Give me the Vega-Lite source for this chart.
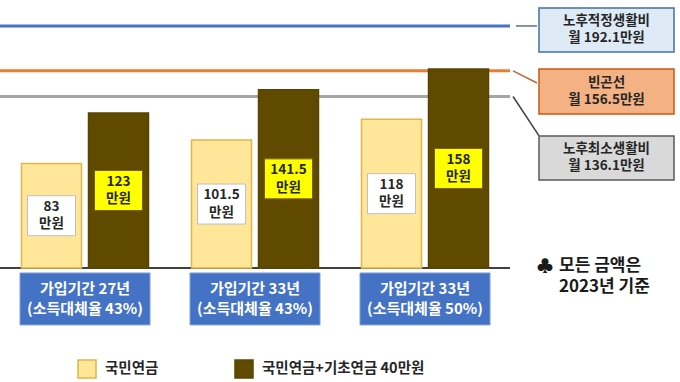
{
  "$schema": "https://vega.github.io/schema/vega-lite/v6.json",
  "width": 680,
  "height": 382,
  "autosize": "none",
  "padding": 0,
  "background": "white",
  "config": {
    "view": {"stroke": null},
    "axis": {"disable": true},
    "font": "Noto Sans CJK KR",
    "text": {"font": "Noto Sans CJK KR", "fontWeight": "bold", "color": "#262626"}
  },
  "datasets": {
    "bars": [
      {"group": "가입기간 27년\n(소득대체율 43%)", "series": "국민연금", "value": 83, "label": "83\n만원"},
      {"group": "가입기간 27년\n(소득대체율 43%)", "series": "국민연금+기초연금 40만원", "value": 123, "label": "123\n만원"},
      {"group": "가입기간 33년\n(소득대체율 43%)", "series": "국민연금", "value": 101.5, "label": "101.5\n만원"},
      {"group": "가입기간 33년\n(소득대체율 43%)", "series": "국민연금+기초연금 40만원", "value": 141.5, "label": "141.5\n만원"},
      {"group": "가입기간 33년\n(소득대체율 50%)", "series": "국민연금", "value": 118, "label": "118\n만원"},
      {"group": "가입기간 33년\n(소득대체율 50%)", "series": "국민연금+기초연금 40만원", "value": 158, "label": "158\n만원"}
    ],
    "refs": [
      {"name": "노후적정생활비", "amount": 192.1, "label": "노후적정생활비\n월 192.1만원"},
      {"name": "빈곤선", "amount": 156.5, "label": "빈곤선\n월 156.5만원"},
      {"name": "노후최소생활비", "amount": 136.1, "label": "노후최소생활비\n월 136.1만원"}
    ],
    "groups": [
      {"group": "가입기간 27년\n(소득대체율 43%)"},
      {"group": "가입기간 33년\n(소득대체율 43%)"},
      {"group": "가입기간 33년\n(소득대체율 50%)"}
    ],
    "baseline": [{"level": 0}],
    "notes": [{"symbol": "♣", "text": "모든 금액은\n2023년 기준"}]
  },
  "layer": [
    {
      "data": {"name": "refs"},
      "mark": {"type": "rule", "strokeWidth": 3},
      "encoding": {
        "x": {"datum": "가입기간 27년\n(소득대체율 43%)", "type": "nominal", "bandPosition": 0, "scale": {"domain": ["가입기간 27년\n(소득대체율 43%)", "가입기간 33년\n(소득대체율 43%)", "가입기간 33년\n(소득대체율 50%)", "note"], "paddingInner": 0, "paddingOuter": 0}},
        "x2": {"datum": "가입기간 33년\n(소득대체율 50%)", "bandPosition": 1},
        "y": {"field": "amount", "type": "quantitative", "scale": {"domain": [-90.5, 212.7], "nice": false, "zero": false}},
        "color": {"field": "name", "type": "nominal", "scale": {"domain": ["노후적정생활비", "빈곤선", "노후최소생활비"], "range": ["#4472C4", "#ED7D31", "#A5A5A5"]}, "legend": null}
      }
    },
    {
      "data": {"name": "baseline"},
      "mark": {"type": "rule", "strokeWidth": 2, "color": "#404040"},
      "encoding": {
        "x": {"datum": "가입기간 27년\n(소득대체율 43%)", "type": "nominal", "bandPosition": 0, "scale": {"domain": ["가입기간 27년\n(소득대체율 43%)", "가입기간 33년\n(소득대체율 43%)", "가입기간 33년\n(소득대체율 50%)", "note"], "paddingInner": 0, "paddingOuter": 0}},
        "x2": {"datum": "가입기간 33년\n(소득대체율 50%)", "bandPosition": 1},
        "y": {"field": "level", "type": "quantitative", "scale": {"domain": [-90.5, 212.7], "nice": false, "zero": false}}
      }
    },
    {
      "data": {"name": "bars"},
      "mark": {"type": "bar", "strokeWidth": 1.5},
      "encoding": {
        "x": {"field": "group", "type": "nominal", "scale": {"domain": ["가입기간 27년\n(소득대체율 43%)", "가입기간 33년\n(소득대체율 43%)", "가입기간 33년\n(소득대체율 50%)", "note"], "paddingInner": 0, "paddingOuter": 0}},
        "xOffset": {"field": "series", "type": "nominal", "scale": {"domain": ["국민연금", "국민연금+기초연금 40만원"], "paddingInner": 0.1045, "paddingOuter": 0.321}},
        "y": {"field": "value", "type": "quantitative", "scale": {"domain": [-90.5, 212.7], "nice": false, "zero": false}},
        "y2": {"datum": 0},
        "fill": {"field": "series", "type": "nominal", "title": null, "scale": {"domain": ["국민연금", "국민연금+기초연금 40만원"], "range": ["#FFE699", "#604A00"]},
          "legend": {"orient": "none", "legendX": 77, "legendY": 359, "direction": "horizontal", "symbolType": "square", "symbolSize": 324, "symbolStrokeWidth": 1.5, "labelFont": "Noto Sans CJK KR", "labelFontSize": 14.5, "labelFontWeight": "bold", "labelColor": "#262626", "labelOffset": 8, "columnPadding": 73, "padding": 0, "labelLimit": 300}},
        "stroke": {"field": "series", "type": "nominal", "title": null, "scale": {"domain": ["국민연금", "국민연금+기초연금 40만원"], "range": ["#E3B448", "#5A4500"]},
          "legend": {"orient": "none", "legendX": 77, "legendY": 359, "direction": "horizontal", "symbolType": "square", "symbolSize": 324, "symbolStrokeWidth": 1.5, "labelFont": "Noto Sans CJK KR", "labelFontSize": 14.5, "labelFontWeight": "bold", "labelColor": "#262626", "labelOffset": 8, "columnPadding": 73, "padding": 0, "labelLimit": 300}}
      }
    },
    {
      "data": {"name": "bars"},
      "layer": [
        {
          "mark": {"type": "point", "shape": "M-1,-0.833L1,-0.833L1,0.833L-1,0.833Z", "size": 2304, "filled": true, "opacity": 1, "strokeWidth": 1},
          "encoding": {
            "x": {"field": "group", "type": "nominal", "scale": {"domain": ["가입기간 27년\n(소득대체율 43%)", "가입기간 33년\n(소득대체율 43%)", "가입기간 33년\n(소득대체율 50%)", "note"], "paddingInner": 0, "paddingOuter": 0}},
            "xOffset": {"field": "series", "type": "nominal", "scale": {"domain": ["국민연금", "국민연금+기초연금 40만원"], "paddingInner": 0.1045, "paddingOuter": 0.321}},
            "y": {"field": "value", "type": "quantitative", "scale": {"domain": [-181, 425.4], "nice": false, "zero": false}},
            "fill": {"field": "series", "type": "nominal", "scale": {"domain": ["국민연금", "국민연금+기초연금 40만원"], "range": ["#FFFFFF", "#FFFF00"]}, "legend": null},
            "stroke": {"field": "series", "type": "nominal", "scale": {"domain": ["국민연금", "국민연금+기초연금 40만원"], "range": ["#BFBFBF", "#7F6000"]}, "legend": null}
          }
        },
        {
          "mark": {"type": "text", "fontSize": 13.5, "fontWeight": "bold", "lineBreak": "\n", "lineHeight": 17.5, "dy": -8.75, "color": "#262626"},
          "encoding": {
            "x": {"field": "group", "type": "nominal", "scale": {"domain": ["가입기간 27년\n(소득대체율 43%)", "가입기간 33년\n(소득대체율 43%)", "가입기간 33년\n(소득대체율 50%)", "note"], "paddingInner": 0, "paddingOuter": 0}},
            "xOffset": {"field": "series", "type": "nominal", "scale": {"domain": ["국민연금", "국민연금+기초연금 40만원"], "paddingInner": 0.1045, "paddingOuter": 0.321}},
            "y": {"field": "value", "type": "quantitative", "scale": {"domain": [-181, 425.4], "nice": false, "zero": false}},
            "text": {"field": "label"}
          }
        }
      ]
    },
    {
      "data": {"name": "groups"},
      "layer": [
        {
          "mark": {"type": "bar", "width": 130, "fill": "#4472C4", "stroke": "#7F9FD8", "strokeWidth": 1},
          "encoding": {
            "x": {"field": "group", "type": "nominal", "scale": {"domain": ["가입기간 27년\n(소득대체율 43%)", "가입기간 33년\n(소득대체율 43%)", "가입기간 33년\n(소득대체율 50%)", "note"], "paddingInner": 0, "paddingOuter": 0}},
            "y": {"datum": -3.97, "type": "quantitative", "scale": {"domain": [-90.5, 212.7], "nice": false, "zero": false}},
            "y2": {"datum": -45.2}
          }
        },
        {
          "mark": {"type": "text", "fontSize": 15, "fontWeight": "bold", "lineBreak": "\n", "lineHeight": 19.5, "dy": -9.75, "color": "#FFFFFF"},
          "encoding": {
            "x": {"field": "group", "type": "nominal", "scale": {"domain": ["가입기간 27년\n(소득대체율 43%)", "가입기간 33년\n(소득대체율 43%)", "가입기간 33년\n(소득대체율 50%)", "note"], "paddingInner": 0, "paddingOuter": 0}},
            "y": {"datum": -24.6, "type": "quantitative", "scale": {"domain": [-90.5, 212.7], "nice": false, "zero": false}},
            "text": {"field": "group"}
          }
        }
      ]
    },
    {
      "data": {"name": "refs"},
      "transform": [{"filter": "datum.name === '노후적정생활비'"}],
      "layer": [
        {
          "mark": {"type": "rule", "color": "#5B6F8A", "strokeWidth": 1.5},
          "encoding": {
            "x": {"datum": "note", "type": "nominal", "bandPosition": 0.035, "scale": {"domain": ["가입기간 27년\n(소득대체율 43%)", "가입기간 33년\n(소득대체율 43%)", "가입기간 33년\n(소득대체율 50%)", "note"], "paddingInner": 0, "paddingOuter": 0}},
            "x2": {"datum": "note", "bandPosition": 0.159},
            "y": {"field": "amount", "type": "quantitative", "scale": {"domain": [-90.5, 212.7], "nice": false, "zero": false}}
          }
        },
        {
          "mark": {"type": "bar", "width": 135, "xOffset": 11.5, "fill": "#DEEBF7", "stroke": "#41719C", "strokeWidth": 1.5},
          "encoding": {
            "x": {"datum": "note", "type": "nominal", "scale": {"domain": ["가입기간 27년\n(소득대체율 43%)", "가입기간 33년\n(소득대체율 43%)", "가입기간 33년\n(소득대체율 50%)", "note"], "paddingInner": 0, "paddingOuter": 0}},
            "y": {"datum": 206.3, "type": "quantitative", "scale": {"domain": [-90.5, 212.7], "nice": false, "zero": false}},
            "y2": {"datum": 171.4}
          }
        },
        {
          "mark": {"type": "text", "dx": 11.5, "dy": -8.5, "fontSize": 13.5, "fontWeight": "bold", "lineBreak": "\n", "lineHeight": 17, "color": "#262626"},
          "encoding": {
            "x": {"datum": "note", "type": "nominal", "scale": {"domain": ["가입기간 27년\n(소득대체율 43%)", "가입기간 33년\n(소득대체율 43%)", "가입기간 33년\n(소득대체율 50%)", "note"], "paddingInner": 0, "paddingOuter": 0}},
            "y": {"datum": 188.9, "type": "quantitative", "scale": {"domain": [-90.5, 212.7], "nice": false, "zero": false}},
            "text": {"field": "label"}
          }
        }
      ]
    },
    {
      "data": {"name": "refs"},
      "transform": [{"filter": "datum.name === '빈곤선'"}],
      "layer": [
        {
          "mark": {"type": "rule", "color": "#B8693A", "strokeWidth": 1.5},
          "encoding": {
            "x": {"datum": "note", "type": "nominal", "bandPosition": 0.018, "scale": {"domain": ["가입기간 27년\n(소득대체율 43%)", "가입기간 33년\n(소득대체율 43%)", "가입기간 33년\n(소득대체율 50%)", "note"], "paddingInner": 0, "paddingOuter": 0}},
            "x2": {"datum": "note", "bandPosition": 0.159},
            "y": {"field": "amount", "type": "quantitative", "scale": {"domain": [-90.5, 212.7], "nice": false, "zero": false}},
            "y2": {"datum": 146.8}
          }
        },
        {
          "mark": {"type": "bar", "width": 135, "xOffset": 11.5, "fill": "#F4B183", "stroke": "#C55A11", "strokeWidth": 1.5},
          "encoding": {
            "x": {"datum": "note", "type": "nominal", "scale": {"domain": ["가입기간 27년\n(소득대체율 43%)", "가입기간 33년\n(소득대체율 43%)", "가입기간 33년\n(소득대체율 50%)", "note"], "paddingInner": 0, "paddingOuter": 0}},
            "y": {"datum": 157.9, "type": "quantitative", "scale": {"domain": [-90.5, 212.7], "nice": false, "zero": false}},
            "y2": {"datum": 122.2}
          }
        },
        {
          "mark": {"type": "text", "dx": 11.5, "dy": -8.5, "fontSize": 13.5, "fontWeight": "bold", "lineBreak": "\n", "lineHeight": 17, "color": "#262626"},
          "encoding": {
            "x": {"datum": "note", "type": "nominal", "scale": {"domain": ["가입기간 27년\n(소득대체율 43%)", "가입기간 33년\n(소득대체율 43%)", "가입기간 33년\n(소득대체율 50%)", "note"], "paddingInner": 0, "paddingOuter": 0}},
            "y": {"datum": 140.1, "type": "quantitative", "scale": {"domain": [-90.5, 212.7], "nice": false, "zero": false}},
            "text": {"field": "label"}
          }
        }
      ]
    },
    {
      "data": {"name": "refs"},
      "transform": [{"filter": "datum.name === '노후최소생활비'"}],
      "layer": [
        {
          "mark": {"type": "rule", "color": "#3F3F3F", "strokeWidth": 1.5},
          "encoding": {
            "x": {"datum": "note", "type": "nominal", "bandPosition": 0.018, "scale": {"domain": ["가입기간 27년\n(소득대체율 43%)", "가입기간 33년\n(소득대체율 43%)", "가입기간 33년\n(소득대체율 50%)", "note"], "paddingInner": 0, "paddingOuter": 0}},
            "x2": {"datum": "note", "bandPosition": 0.171},
            "y": {"field": "amount", "type": "quantitative", "scale": {"domain": [-90.5, 212.7], "nice": false, "zero": false}},
            "y2": {"datum": 104.8}
          }
        },
        {
          "mark": {"type": "bar", "width": 135, "xOffset": 11.5, "fill": "#D9D9D9", "stroke": "#595959", "strokeWidth": 1.5},
          "encoding": {
            "x": {"datum": "note", "type": "nominal", "scale": {"domain": ["가입기간 27년\n(소득대체율 43%)", "가입기간 33년\n(소득대체율 43%)", "가입기간 33년\n(소득대체율 50%)", "note"], "paddingInner": 0, "paddingOuter": 0}},
            "y": {"datum": 104.8, "type": "quantitative", "scale": {"domain": [-90.5, 212.7], "nice": false, "zero": false}},
            "y2": {"datum": 69.8}
          }
        },
        {
          "mark": {"type": "text", "dx": 11.5, "dy": -8.5, "fontSize": 13.5, "fontWeight": "bold", "lineBreak": "\n", "lineHeight": 17, "color": "#262626"},
          "encoding": {
            "x": {"datum": "note", "type": "nominal", "scale": {"domain": ["가입기간 27년\n(소득대체율 43%)", "가입기간 33년\n(소득대체율 43%)", "가입기간 33년\n(소득대체율 50%)", "note"], "paddingInner": 0, "paddingOuter": 0}},
            "y": {"datum": 87.3, "type": "quantitative", "scale": {"domain": [-90.5, 212.7], "nice": false, "zero": false}},
            "text": {"field": "label"}
          }
        }
      ]
    },
    {
      "data": {"name": "notes"},
      "layer": [
        {
          "mark": {"type": "text", "dx": -50, "fontSize": 17, "fontWeight": "bold", "color": "#1A1A1A"},
          "encoding": {
            "x": {"datum": "note", "type": "nominal", "scale": {"domain": ["가입기간 27년\n(소득대체율 43%)", "가입기간 33년\n(소득대체율 43%)", "가입기간 33년\n(소득대체율 50%)", "note"], "paddingInner": 0, "paddingOuter": 0}},
            "y": {"datum": 0.8, "type": "quantitative", "scale": {"domain": [-90.5, 212.7], "nice": false, "zero": false}},
            "text": {"field": "symbol"}
          }
        },
        {
          "mark": {"type": "text", "align": "left", "dx": -36, "dy": -10.5, "fontSize": 17, "fontWeight": "bold", "lineBreak": "\n", "lineHeight": 21, "color": "#1A1A1A"},
          "encoding": {
            "x": {"datum": "note", "type": "nominal", "scale": {"domain": ["가입기간 27년\n(소득대체율 43%)", "가입기간 33년\n(소득대체율 43%)", "가입기간 33년\n(소득대체율 50%)", "note"], "paddingInner": 0, "paddingOuter": 0}},
            "y": {"datum": -7.1, "type": "quantitative", "scale": {"domain": [-90.5, 212.7], "nice": false, "zero": false}},
            "text": {"field": "text"}
          }
        }
      ]
    }
  ],
  "resolve": {"scale": {"y": "independent", "fill": "independent", "stroke": "independent", "color": "independent"}}
}
